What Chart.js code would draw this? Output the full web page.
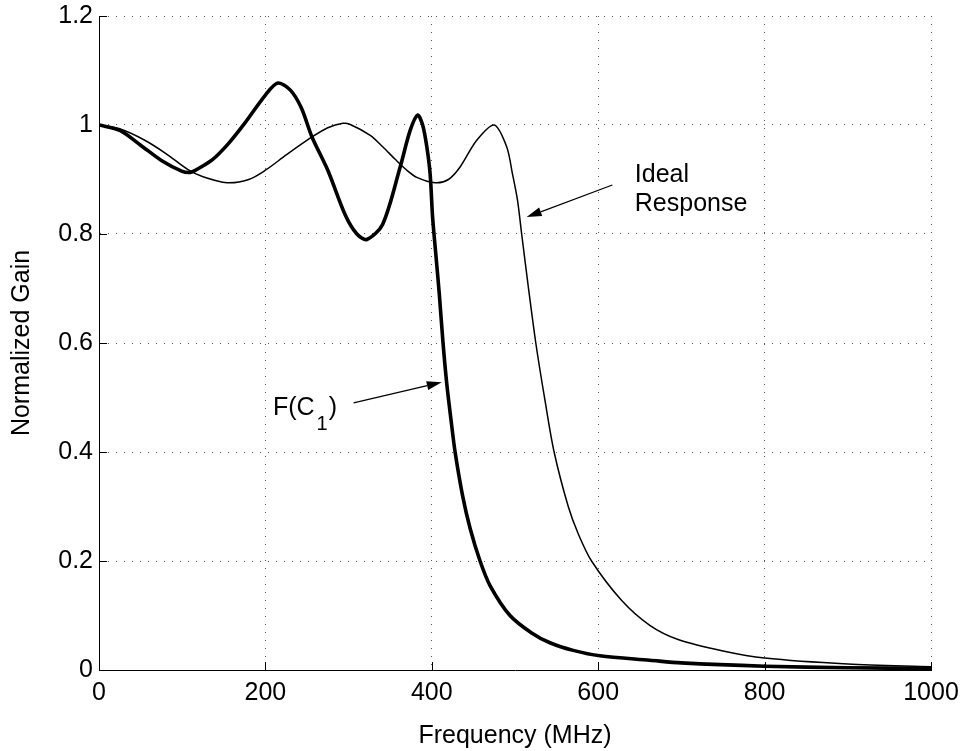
<!DOCTYPE html>
<html><head><meta charset="utf-8">
<script src="https://cdn.jsdelivr.net/npm/chart.js@4/dist/chart.umd.min.js"></script>
<style>html,body{margin:0;padding:0;background:#fff}#wrap{width:964px;height:751px;position:relative}</style>
</head><body><div id="wrap"><canvas id="c" width="964" height="751"></canvas></div>
<script>
// Frequency (MHz) and normalized gain
const fcFreq = [0,25,50,75,100,110,116,136,155,175,200,215,230,243,256,275,296,310,322,341,362,374,383,389,394,398,401,405,409,413.5,418,423,428,437,446,458,470,494,520,542,570,602,662,700,800,900,1000];
const fcGain = [1.0,0.99,0.963,0.935,0.915,0.913,0.917,0.936,0.965,1.003,1.055,1.077,1.064,1.032,0.978,0.917,0.835,0.8,0.79,0.818,0.923,0.99,1.018,1.0,0.96,0.91,0.83,0.76,0.69,0.6,0.525,0.46,0.4,0.32,0.26,0.2,0.155,0.1,0.068,0.05,0.036,0.026,0.018,0.013,0.007,0.004,0.003];
const idealFreq = [0,25,55,80,107,125,154,180,200,225,256,275,293,302,326,341,356,370,382,404,420,434,454,475,490,497,503,508,516,525,536,547,564,576,592,628,662,696,750,800,900,1000];
const idealGain = [1.0,0.993,0.972,0.948,0.918,0.905,0.894,0.9,0.917,0.945,0.978,0.995,1.003,1.001,0.981,0.96,0.937,0.917,0.904,0.894,0.9,0.923,0.972,1.0,0.96,0.91,0.862,0.8,0.703,0.6,0.495,0.4,0.3,0.25,0.2,0.128,0.082,0.056,0.035,0.022,0.011,0.006];
const xTicks = [0,200,400,600,800,1000];
const yTicks = [0,0.2,0.4,0.6,0.8,1,1.2];
const xTitle = 'Frequency (MHz)';
const yTitle = 'Normalized Gain';
// annotations, in data units [freq, gain]
const idealLine1At = [644, 0.895];
const idealLine2At = [644, 0.842];
const idealArrow = [[617,0.89],[514,0.831]];
const fcLabelAt = [209, 0.468];
const fcArrow = [[306,0.49],[412,0.528]];

const FONT = '"Liberation Sans", Arial, Helvetica, sans-serif';
const FS = 25;
const pts = (xs, ys) => xs.map((x,i)=>({x:x,y:ys[i]}));

function arrow(ctx, x1,y1,x2,y2){
  ctx.save();
  ctx.strokeStyle='#000'; ctx.fillStyle='#000'; ctx.lineWidth=1.2;
  const a=Math.atan2(y2-y1,x2-x1), L=15, W=4.5;
  const bx=x2-L*Math.cos(a), by=y2-L*Math.sin(a);
  ctx.beginPath(); ctx.moveTo(x1,y1); ctx.lineTo(bx,by); ctx.stroke();
  ctx.beginPath(); ctx.moveTo(x2,y2);
  ctx.lineTo(bx+W*Math.sin(a), by-W*Math.cos(a));
  ctx.lineTo(bx-W*Math.sin(a), by+W*Math.cos(a));
  ctx.closePath(); ctx.fill();
  ctx.restore();
}

const annot = {
  id:'annot',
  afterDatasetsDraw(chart){
    const ctx=chart.ctx, xs=chart.scales.x, ys=chart.scales.y;
    const P=(p)=>[xs.getPixelForValue(p[0]), ys.getPixelForValue(p[1])];
    // inward tick marks
    ctx.save(); ctx.strokeStyle='#000'; ctx.lineWidth=1;
    xs.ticks.forEach(t=>{const px=Math.round(xs.getPixelForValue(t.value))+0.5; ctx.beginPath(); ctx.moveTo(px,ys.bottom); ctx.lineTo(px,ys.bottom-8); ctx.stroke();});
    ys.ticks.forEach(t=>{const py=Math.round(ys.getPixelForValue(t.value))+0.5; ctx.beginPath(); ctx.moveTo(xs.left,py); ctx.lineTo(xs.left+8,py); ctx.stroke();});
    ctx.restore();
    let a=P(idealArrow[0]), b=P(idealArrow[1]); arrow(ctx,a[0],a[1],b[0],b[1]);
    a=P(fcArrow[0]); b=P(fcArrow[1]); arrow(ctx,a[0],a[1],b[0],b[1]);
    ctx.save(); ctx.fillStyle='#000'; ctx.font=FS+'px '+FONT; ctx.textBaseline='alphabetic'; ctx.textAlign='left';
    let p=P(idealLine1At); ctx.fillText('Ideal', p[0], p[1]);
    p=P(idealLine2At); ctx.fillText('Response', p[0], p[1]);
    const fl=P(fcLabelAt);
    let x=fl[0], y=fl[1];
    ctx.fillText('F(C', x, y); x+=ctx.measureText('F(C').width;
    ctx.font='20px '+FONT; ctx.fillText('1', x+2, y+15); x+=ctx.measureText('1').width+3;
    ctx.font=FS+'px '+FONT; ctx.fillText(')', x, y);
    ctx.restore();
  }
};

new Chart(document.getElementById('c'), {
  type:'scatter',
  data:{datasets:[
    {label:'F(C1)', data:pts(fcFreq,fcGain), showLine:true, borderColor:'#000', borderWidth:3.6, pointRadius:0, tension:0.3, fill:false},
    {label:'Ideal Response', data:pts(idealFreq,idealGain), showLine:true, borderColor:'#000', borderWidth:1.5, pointRadius:0, tension:0.3, fill:false}
  ]},
  options:{
    responsive:false, animation:false, devicePixelRatio:1,
    layout:{padding:{left:7,right:33,top:16,bottom:0}},
    plugins:{legend:{display:false}, tooltip:{enabled:false}},
    scales:{
      x:{type:'linear', min:0, max:1000,
        afterBuildTicks:(s)=>{s.ticks=xTicks.map(v=>({value:v}));},
        afterFit:(s)=>{s.height=81; s.paddingLeft=0; s.paddingRight=0;},
        ticks:{color:'#000', font:{family:FONT,size:FS}, padding:8, maxRotation:0, callback:(v)=>String(v)},
        grid:{color:'#555', lineWidth:1, drawTicks:false},
        border:{display:true, color:'#000', width:1, dash:[1,7]},
        title:{display:true, text:xTitle, color:'#000', font:{family:FONT,size:FS}, padding:{top:0,bottom:0}}
      },
      y:{type:'linear', min:0, max:1.2,
        afterBuildTicks:(s)=>{s.ticks=yTicks.map(v=>({value:v}));},
        afterFit:(s)=>{s.width=92; s.paddingTop=0; s.paddingBottom=0;},
        ticks:{color:'#000', font:{family:FONT,size:FS}, padding:6, callback:(v)=>String(v)},
        grid:{color:'#555', lineWidth:1, drawTicks:false},
        border:{display:true, color:'#000', width:1, dash:[1,7]},
        title:{display:true, text:yTitle, color:'#000', font:{family:FONT,size:FS}, padding:{top:0,bottom:0}}
      }
    }
  },
  plugins:[annot]
});
</script></body></html>
